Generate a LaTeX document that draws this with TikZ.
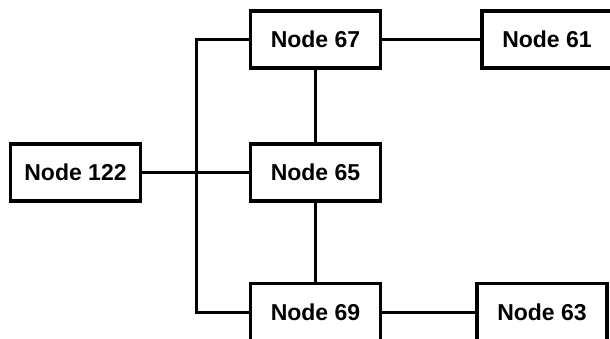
\documentclass[tikz,border=0pt]{standalone}
\usepackage{fontspec}
\setmainfont{Liberation Sans}
\usetikzlibrary{positioning}

\tikzset{
    box/.style={draw, line width=3.5pt, fill=white, minimum width=130pt, minimum height=57pt,
        font=\fontsize{23}{27}\selectfont\bfseries, inner sep=0pt},
    link/.style={line width=3pt}
}

\begin{document}
\begin{tikzpicture}[x=1pt, y=-1pt]
    % Frame of the page
    \path[use as bounding box, clip] (0,0) rectangle (610,338);

    % Boxes
    \node[box] (n122) at (75.5,172.5) {Node 122};
    \node[box] (n67) at (315.5,39.5) {Node 67};
    \node[box] (n65) at (315.5,172.5) {Node 65};
    \node[box] (n69) at (315.5,312) {Node 69};
    \node[box] (n61) at (547,39.5) {Node 61};
    \node[box] (n63) at (542,312) {Node 63};

    % Bus on the left
    \coordinate (bus) at (196,172.5);
    \draw[link] (n67.west) -| (bus) |- (n69.west);
    \draw[link] (n122.east) -- (n65.west);

    % Middle column
    \draw[link] (n67.south) -- (n65.north);
    \draw[link] (n65.south) -- (n69.north);

    % Right column
    \draw[link] (n67.east) -- (n61.west);
    \draw[link] (n69.east) -- (n63.west);
\end{tikzpicture}
\end{document}
